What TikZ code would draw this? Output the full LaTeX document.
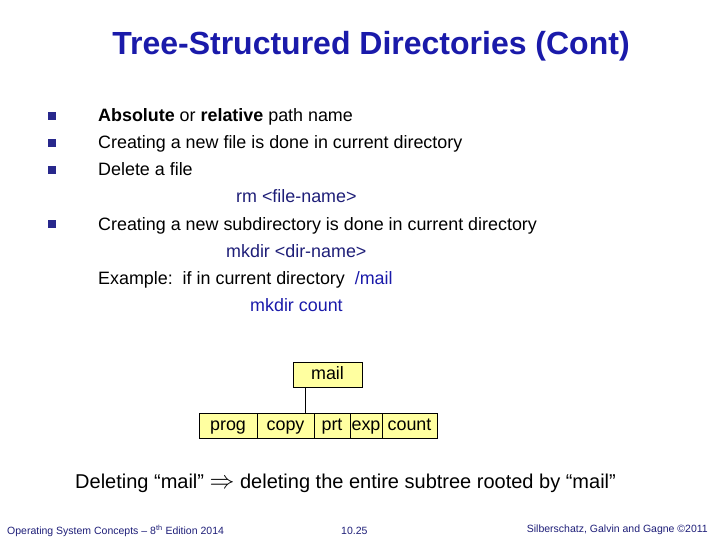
\documentclass[tikz,border=0pt]{standalone}
\usepackage{fontspec}
\setmainfont{Liberation Sans}
\usepackage{amssymb}
\definecolor{ttl}{RGB}{26,26,170}
\definecolor{bul}{RGB}{40,40,140}
\definecolor{dkb}{RGB}{30,30,120}
\definecolor{box}{RGB}{255,255,160}
\begin{document}
\begin{tikzpicture}[x=1pt,y=-1pt,
  txt/.style={anchor=base west,inner sep=0,font=\fontsize{17.9}{20}\selectfont},
  bsq/.style={fill=bul,minimum size=8pt,inner sep=0},
  cell/.style={draw=black,fill=box,minimum height=25pt,inner sep=0,text height=12.5pt,text depth=3.5pt,font=\fontsize{17.9}{20}\selectfont}]
\useasboundingbox (0,0) rectangle (720,540);
\node[anchor=base,inner sep=0,text=ttl,font=\fontsize{32}{34}\selectfont\bfseries] (title) at (371,55) {Tree-Structured Directories (Cont)};
\node[bsq] (b1) at (52,116) {};
\node[bsq] (b2) at (52,143) {};
\node[bsq] (b3) at (52,170) {};
\node[bsq] (b4) at (52,224) {};
\node[txt] (t1) at (98,122) {\textbf{Absolute} or \textbf{relative} path name};
\node[txt] (t2) at (98,149) {Creating a new file is done in current directory};
\node[txt] (t3) at (98,176) {Delete a file};
\node[txt,text=dkb] (t4) at (236,203) {rm <file-name>};
\node[txt] (t5) at (98,230) {Creating a new subdirectory is done in current directory};
\node[txt,text=dkb] (t6) at (226,257) {mkdir <dir-name>};
\node[txt] (t7) at (98,284) {Example:\ \ if in current directory\ \ \textcolor{ttl}{/mail}};
\node[txt,text=ttl] (t8) at (250,311) {mkdir count};
\node[cell,minimum width=69pt] (mail) at (327.5,375) {mail};
\node[cell,minimum width=58pt] (prog) at (228,425.5) {prog};
\node[cell,minimum width=57pt] (copy) at (285.5,425.5) {copy};
\node[cell,minimum width=36pt] (prt) at (332,425.5) {prt};
\node[cell,minimum width=32pt] (exp) at (366,425.5) {exp};
\node[cell,minimum width=55pt] (count) at (409.5,425.5) {count};
\coordinate (m) at (305,387.5);
\draw (m) -- (m |- copy.north);
\node[txt,font=\fontsize{20}{22}\selectfont] (del) at (75,488) {Deleting “mail” {\fontsize{24}{24}\selectfont$\Rightarrow$} deleting the entire subtree rooted by “mail”};
\node[txt,font=\fontsize{10.5}{12}\selectfont,text=dkb] (f1) at (7,534) {Operating System Concepts -- 8\textsuperscript{th} Edition 2014};
\node[txt,font=\fontsize{10.5}{12}\selectfont,text=dkb] (f2) at (341,534) {10.25};
\node[txt,anchor=base east,font=\fontsize{10.5}{12}\selectfont,text=dkb] (f3) at (708,532) {Silberschatz, Galvin and Gagne \textcopyright 2011};
\end{tikzpicture}
\end{document}
